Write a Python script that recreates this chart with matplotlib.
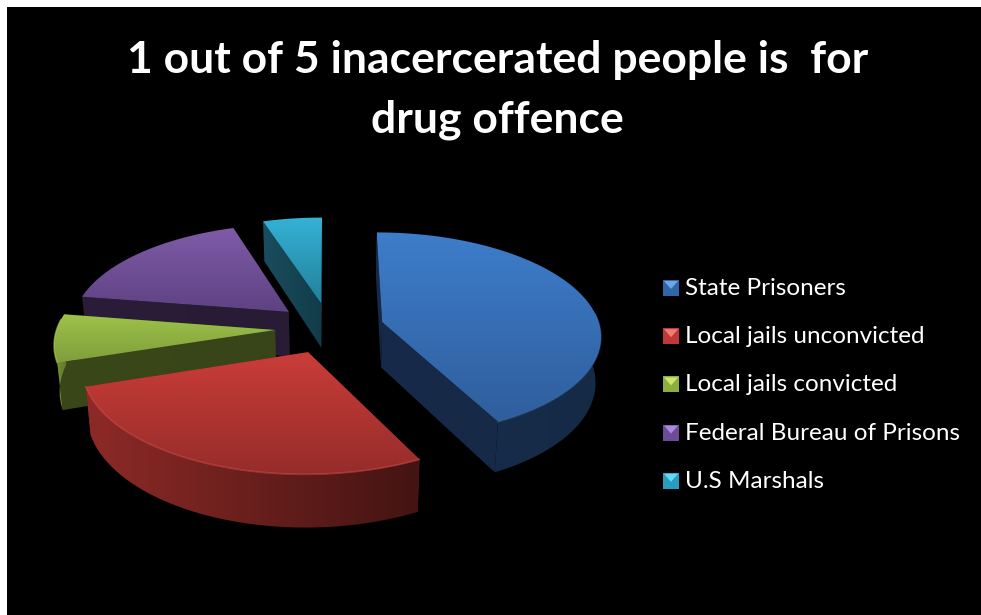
import numpy as np
import matplotlib
matplotlib.use("Agg")
import matplotlib.pyplot as plt
from matplotlib.colors import LinearSegmentedColormap
from matplotlib.patches import Polygon, Rectangle

# Share of people held, by type of facility (percent)
categories = ["State Prisoners", "Local jails unconvicted", "Local jails convicted",
              "Federal Bureau of Prisons", "U.S Marshals"]
shares = [42.5, 27.5, 7.5, 17.5, 5.0]

title_lines = ["1 out of 5 inacercerated people is  for", "drug offence"]

# Face colours: (far edge, near edge) of the top; (left, right) of the outer rim; cut wall
top_colors = [("#3E7DCB", "#2F5E9C"), ("#CA3D39", "#962C2A"), ("#9DC249", "#7F9E3C"),
              ("#7F5BA8", "#5E4282"), ("#35B2D6", "#22809A")]
rim_colors = [("#172C4A", "#152A45"), ("#8E2A27", "#431412"), ("#7C9A38", "#5C7429"),
              ("#2A1E3A", "#2A1E3A"), ("#174A5A", "#174A5A")]
wall_colors = [("#16294A", "#162A46"), ("#5A1815", "#4A1412"), ("#3A4718", "#38451A"),
               ("#2B1D39", "#281B34"), ("#1A4D5E", "#123C48")]
edge_colors = ["#3F75B5", "#D24E48", "#A9C94F", "#8A66B4", "#3CBAD9"]
edge_alpha = [0.35, 0.55, 0.6, 0.0, 0.0]
legend_colors = ["#2F66A8", "#C0393A", "#8CAD3F", "#6C4C99", "#2A9DBD"]
legend_light = ["#6FA5E6", "#F07C78", "#CFE56E", "#A98BDC", "#63DBF5"]

# Projection of the pie plane onto the page, in pixel units
CX, CY = 329.5, 328.0
VANISH_Y = -533.0
FOCAL = 218.0
TILT = 0.118
EXPLODE = 0.25
DEPTH = 45.5
NARROW = 0.98
FRONT_FROM, FRONT_TO = 85.0, 276.0


def project(x, y):
    s = 1.0 / (1.0 + TILT * np.asarray(y, dtype=float))
    return CX + FOCAL * np.asarray(x, dtype=float) * s, VANISH_Y + (CY - VANISH_Y) * s


def drop(px, py):
    # Move a top-face point to the matching point on the lower face
    scale = (py - VANISH_Y) / (CY - VANISH_Y)
    return CX + (px - CX) * NARROW, py + DEPTH * scale


def gradient_fill(ax, pts, colors, vertical, zorder):
    pts = np.asarray(pts)
    cmap = LinearSegmentedColormap.from_list("face", colors)
    ramp = np.linspace(0, 1, 256)
    ramp = ramp[:, None] if vertical else ramp[None, :]
    x0, x1 = pts[:, 0].min(), pts[:, 0].max()
    y0, y1 = pts[:, 1].min(), pts[:, 1].max()
    img = ax.imshow(ramp, cmap=cmap, extent=(x0, x1, y1, y0), aspect="auto",
                    origin="upper", zorder=zorder, interpolation="bilinear")
    clip = Polygon(pts, closed=True, transform=ax.transData)
    img.set_clip_path(clip)


fig = plt.figure(figsize=(9.81, 6.15), dpi=100, facecolor="white")
ax = fig.add_axes([7 / 981, 0, 974 / 981, 608 / 615])
ax.set_facecolor("black")
ax.set_axis_off()
ax.add_patch(Rectangle((7, 7), 974, 608, facecolor="black", edgecolor="none", zorder=0))

bounds = np.concatenate([[0], np.cumsum(shares)]) / np.sum(shares) * 360.0
draw_order = [4, 3, 2, 0, 1]

for rank, i in enumerate(draw_order):
    a0, a1 = bounds[i], bounds[i + 1]
    mid = np.radians((a0 + a1) / 2)
    ox, oy = EXPLODE * np.sin(mid), EXPLODE * np.cos(mid)
    deg = np.linspace(a0, a1, max(int(a1 - a0) * 2, 8))
    rad = np.radians(deg)
    ax_x, ax_y = project(ox, oy)
    arc_x, arc_y = project(ox + np.sin(rad), oy + np.cos(rad))
    z = 2 + rank * 4

    # cut walls on both sides of the slice
    for k in (0, -1):
        bx0, by0 = drop(float(ax_x), float(ax_y))
        bx1, by1 = drop(arc_x[k], arc_y[k])
        pts = [(float(ax_x), float(ax_y)), (arc_x[k], arc_y[k]), (bx1, by1), (bx0, by0)]
        gradient_fill(ax, pts, wall_colors[i], False, z)

    # outer rim, only where it faces the viewer
    mask = (deg >= FRONT_FROM) & (deg <= FRONT_TO)
    if mask.sum() > 1:
        fx, fy = arc_x[mask], arc_y[mask]
        lx, ly = drop(fx, fy)
        pts = np.vstack([np.column_stack([fx, fy]), np.column_stack([lx, ly])[::-1]])
        gradient_fill(ax, pts, rim_colors[i], False, z + 1)

    # top face
    top = np.vstack([[float(ax_x), float(ax_y)], np.column_stack([arc_x, arc_y])])
    gradient_fill(ax, top, top_colors[i], True, z + 2)
    if mask.sum() > 1 and edge_alpha[i] > 0:
        ax.plot(arc_x[mask], arc_y[mask], color=edge_colors[i], lw=1.2, alpha=edge_alpha[i],
                zorder=z + 3, solid_capstyle="round")

ax.set_xlim(7, 981)
ax.set_ylim(615, 7)

# Title
for line, base in zip(title_lines, (73, 132)):
    ax.text(497.5, base, line, family="Lato", weight="bold", fontsize=32, color="white",
            ha="center", va="baseline", zorder=50)

# Legend with small bevelled swatches
for i, name in enumerate(categories):
    yc = 288 + 48.2 * i
    x0, x1, y0, y1 = 663.0, 679.0, yc - 8, yc + 8
    ax.add_patch(Rectangle((x0, y0), x1 - x0, y1 - y0, facecolor=legend_colors[i],
                           edgecolor="none", zorder=40))
    ax.add_patch(Polygon([(x0 + 1, y0 + 1), (x1 - 1, y0 + 1), ((x0 + x1) / 2, yc + 1)],
                         closed=True, facecolor=legend_light[i], edgecolor="none", zorder=41))
    ax.text(685, yc + 7, name, family="Lato", fontsize=17.5, color="white",
            ha="left", va="baseline", zorder=50)

fig.savefig("out.png", dpi=100, facecolor="white")
